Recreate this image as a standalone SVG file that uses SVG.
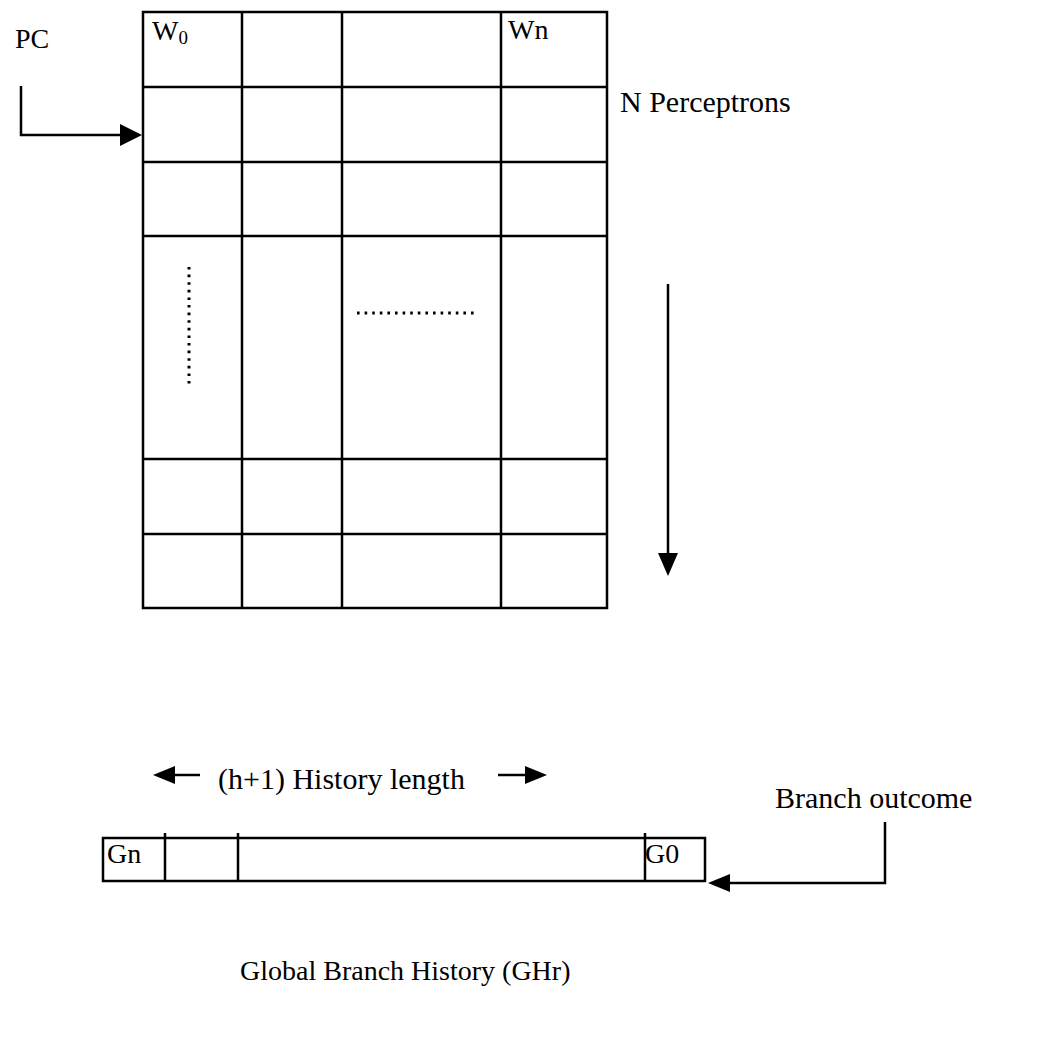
<svg xmlns="http://www.w3.org/2000/svg" width="1061" height="1043" viewBox="0 0 1061 1043">
<defs>
<style>
text{font-family:"Liberation Serif","Times New Roman",serif;fill:#000}
.s28{font-size:28px}
.s30{font-size:30px}
.sub{font-size:19px}
.ln{stroke:#000;stroke-width:2.5;fill:none}
.dot{stroke:#000;stroke-width:3;fill:none;stroke-dasharray:2.6 5}
.head{fill:#000}
</style>
</defs>
<rect width="1061" height="1043" fill="#fff"/>
<g id="perceptron-table">
<rect class="ln" x="143" y="12" width="464" height="596"/>
<path class="ln" d="M242 12V608M342 12V608M501 12V608M143 87H607M143 162H607M143 236H607M143 459H607M143 534H607"/>
<text class="s28" x="152" y="40">W<tspan class="sub" dy="4">0</tspan></text>
<text class="s28" x="508" y="39">Wn</text>
<path class="dot" d="M189 267V384"/>
<path class="dot" d="M357 313H478"/>
</g>
<g id="pc-label"><text class="s28" x="15" y="48">PC</text></g>
<g id="n-perceptrons"><text class="s30" x="620" y="112">N Perceptrons</text></g>
<g id="history-length"><text class="s30" x="218" y="789">(h+1) History length</text></g>
<g id="branch-outcome"><text class="s30" x="775" y="808">Branch outcome</text></g>
<g id="ghr">
<rect class="ln" x="103" y="838" width="602" height="43"/>
<path class="ln" d="M165 833V881M238 833V881M645 833V881"/>
<text class="s28" x="107" y="863">Gn</text>
<text class="s28" x="645" y="863">G0</text>
</g>
<g id="ghr-label"><text class="s28" x="240" y="980">Global Branch History (GHr)</text></g>
<g id="connectors">
<path class="ln" d="M21 86V135H122"/>
<polygon class="head" points="142,135 120,124 120,146"/>
<path class="ln" d="M668 284V554"/>
<polygon class="head" points="668,576 658,553 678,553"/>
<path class="ln" d="M174 775H200"/>
<polygon class="head" points="153,775 175,766 175,784"/>
<path class="ln" d="M498 775H526"/>
<polygon class="head" points="547,775 525,766 525,784"/>
<path class="ln" d="M885 822V883H728"/>
<polygon class="head" points="708,883 730,874 730,892"/>
</g>
</svg>
